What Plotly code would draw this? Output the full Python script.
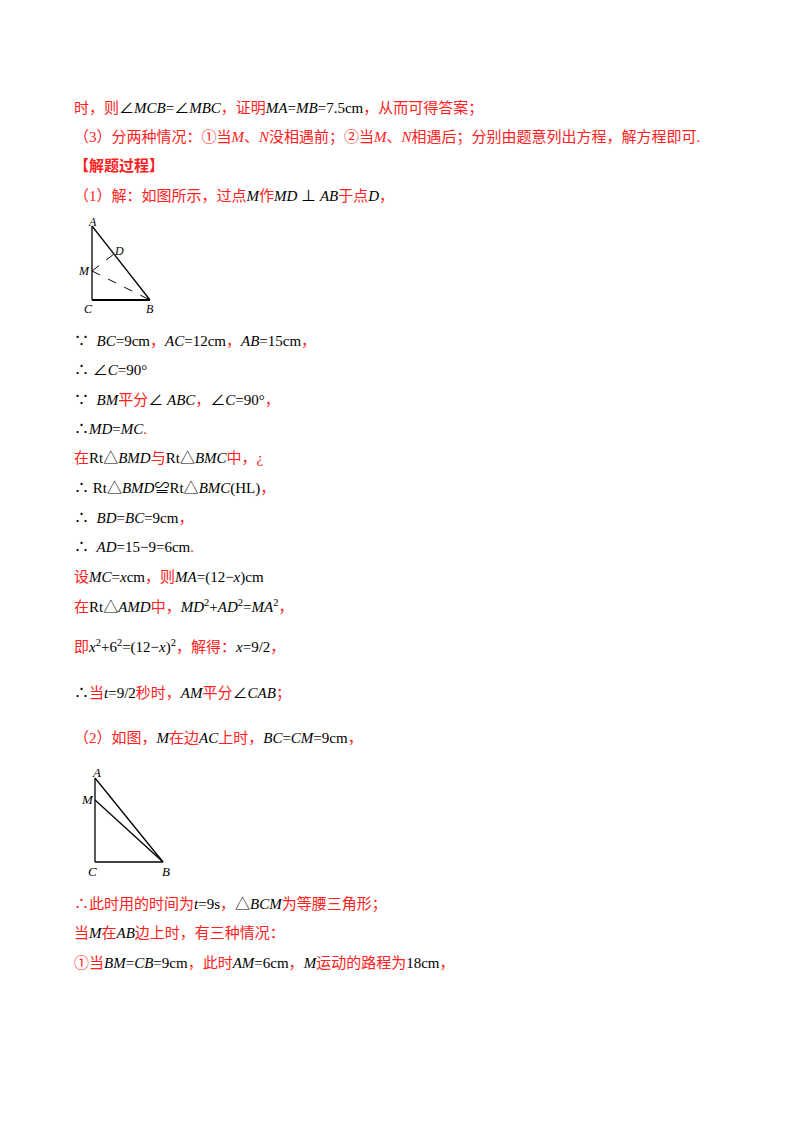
import plotly.graph_objects as go

R = "#ff2020"
K = "#000000"

def s(t, c=K, i=False):
    t = f"<i>{t}</i>" if i else t
    return f"<span style='color:{c}'>{t}</span>"

line_x = [72, 72, 72, 72, 72, 72, 72, 72, 72, 72, 72, 72, 72, 72, 72, 72, 72, 72, 72, 72]
line_y = [108, 137, 166, 196, 341, 370, 400, 429, 458, 488, 518, 547, 577, 606, 646, 693, 738, 904, 933, 963]
lines = [
    s("时，则", R) + s("∠", K) + s("MCB", K, True) + s("=∠", K) + s("MBC", K, True) + s("，证明", R) + s("MA", K, True) + s("=", K) + s("MB", K, True) + s("=7.5cm", K) + s("，从而可得答案；", R),
    s("（3）分两种情况：①当", R) + s("M", R, True) + s("、", R) + s("N", R, True) + s("没相遇前；②当", R) + s("M", R, True) + s("、", R) + s("N", R, True) + s("相遇后；分别由题意列出方程，解方程即可.", R),
    s("<b>【解题过程】</b>", R),
    s("（1）解：如图所示，过点", R) + s("M", K, True) + s("作", R) + s("MD", K, True) + s(" ⊥ ", K) + s("AB", K, True) + s("于点", R) + s("D", K, True) + s("，", R),
    s("∵  ") + s("BC", K, True) + s("=9cm") + s("，", R) + s("AC", K, True) + s("=12cm") + s("，", R) + s("AB", K, True) + s("=15cm") + s("，", R),
    s("∴ ∠") + s("C", K, True) + s("=90°"),
    s("∵  ") + s("BM", K, True) + s("平分", R) + s("∠ ") + s("ABC", K, True) + s("，", R) + s("∠") + s("C", K, True) + s("=90°") + s("，", R),
    s("∴") + s("MD", K, True) + s("=") + s("MC", K, True) + s(".", R),
    s("在", R) + s("Rt△") + s("BMD", K, True) + s("与", R) + s("Rt△") + s("BMC", K, True) + s("中，¿", R),
    s("∴ Rt△") + s("BMD", K, True) + s("≌Rt△") + s("BMC", K, True) + s("(HL)") + s("，", R),
    s("∴  ") + s("BD", K, True) + s("=") + s("BC", K, True) + s("=9cm") + s("，", R),
    s("∴  ") + s("AD", K, True) + s("=15−9=6cm") + s(".", R),
    s("设", R) + s("MC", K, True) + s("=") + s("x", K, True) + s("cm") + s("，则", R) + s("MA", K, True) + s("=(12−") + s("x", K, True) + s(")cm"),
    s("在", R) + s("Rt△") + s("AMD", K, True) + s("中，", R) + s("MD", K, True) + s("<sup>2</sup>+") + s("AD", K, True) + s("<sup>2</sup>=") + s("MA", K, True) + s("<sup>2</sup>") + s("，", R),
    s("即", R) + s("x", K, True) + s("<sup>2</sup>+6<sup>2</sup>=(12−") + s("x", K, True) + s(")<sup>2</sup>") + s("，解得：", R) + s("x", K, True) + s("=9/2") + s("，", R),
    s("∴") + s("当", R) + s("t", K, True) + s("=9/2") + s("秒时，", R) + s("AM", K, True) + s("平分", R) + s("∠") + s("CAB", K, True) + s("；", R),
    s("（2）如图，", R) + s("M", K, True) + s("在边", R) + s("AC", K, True) + s("上时，", R) + s("BC", K, True) + s("=") + s("CM", K, True) + s("=9cm") + s("，", R),
    s("∴此时用的时间为", R) + s("t", K, True) + s("=9s") + s("，", R) + s("△") + s("BCM", K, True) + s("为等腰三角形；", R),
    s("当", R) + s("M", K, True) + s("在", R) + s("AB", K, True) + s("边上时，有三种情况：", R),
    s("①当", R) + s("BM", K, True) + s("=") + s("CB", K, True) + s("=9cm") + s("，此时", R) + s("AM", K, True) + s("=6cm") + s("，", R) + s("M", K, True) + s("运动的路程为", R) + s("18cm") + s("，", R),
]

# Figure 1 geometry (pixel coords)
f1_names = ["A", "C", "B", "M", "D"]
f1_x = [92, 92, 150, 92, 114]
f1_y = [226, 300, 300, 271, 254]
f1_lx = [92, 88, 150, 84, 119]
f1_ly = [222, 309, 309, 271, 251]
# Figure 2 geometry
f2_names = ["A", "M", "C", "B"]
f2_x = [95, 95, 95, 163]
f2_y = [778, 800, 862, 862]
f2_lx = [96, 87, 92, 166]
f2_ly = [772, 799, 871, 871]

fig = go.Figure()
P1 = dict(zip(f1_names, zip(f1_x, f1_y)))
P2 = dict(zip(f2_names, zip(f2_x, f2_y)))

def seg(P, a, b, dash="solid", w=1.3):
    fig.add_trace(go.Scatter(x=[P[a][0], P[b][0]], y=[P[a][1], P[b][1]], mode="lines",
                             line=dict(color="black", width=w, dash=dash), hoverinfo="skip", showlegend=False))

seg(P1, "A", "C"); seg(P1, "C", "B", w=2); seg(P1, "A", "B")
seg(P1, "M", "D", "dash", 1); seg(P1, "M", "B", "dash", 1)
seg(P2, "A", "C"); seg(P2, "C", "B"); seg(P2, "A", "B"); seg(P2, "M", "B")

for lx, ly, n in zip(f1_lx, f1_ly, f1_names):
    fig.add_annotation(x=lx, y=ly, text=f"<i>{n}</i>", showarrow=False, font=dict(family="Liberation Serif", size=12, color="black"))
for lx, ly, n in zip(f2_lx, f2_ly, f2_names):
    fig.add_annotation(x=lx, y=ly, text=f"<i>{n}</i>", showarrow=False, font=dict(family="Liberation Serif", size=13, color="black"))

for x, y, t in zip(line_x, line_y, lines):
    fig.add_annotation(x=x, y=y, text=t, showarrow=False, xanchor="left", yanchor="middle",
                       font=dict(family="Liberation Serif, Noto Sans CJK SC", size=15))

fig.update_layout(width=800, height=1132, margin=dict(l=0, r=0, t=0, b=0),
                  plot_bgcolor="white", paper_bgcolor="white",
                  xaxis=dict(range=[8, 808], visible=False),
                  yaxis=dict(range=[1140, 8], visible=False))
fig.write_html("out.html")
